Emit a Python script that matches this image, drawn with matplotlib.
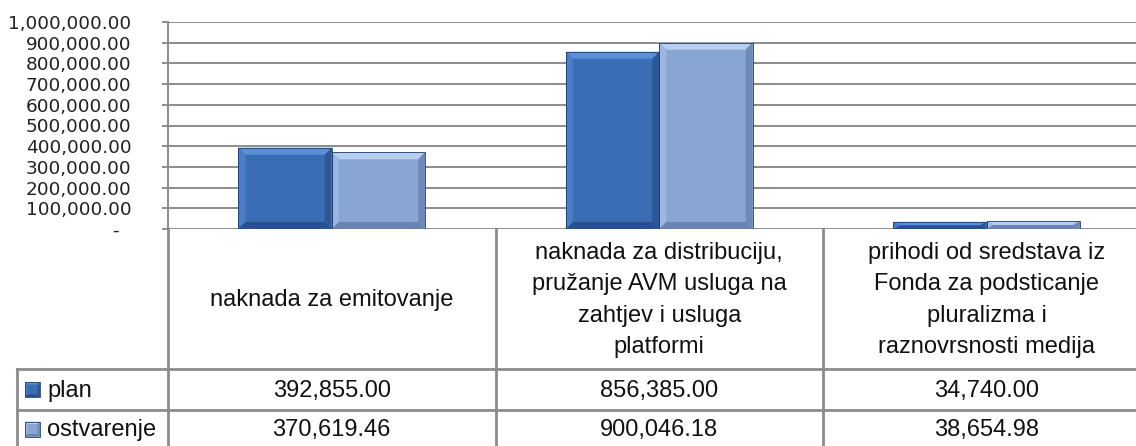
import matplotlib.pyplot as plt
import numpy as np
from matplotlib.patches import Polygon, Rectangle
from matplotlib.ticker import FuncFormatter

# podaci
kategorije = [
    "naknada za emitovanje",
    "naknada za distribuciju,\npružanje AVM usluga na\nzahtjev i usluga\nplatformi",
    "prihodi od sredstava iz\nFonda za podsticanje\npluralizma i\nraznovrsnosti medija",
]
serije = ["plan", "ostvarenje"]
plan = [392855.00, 856385.00, 34740.00]
ostvarenje = [370619.46, 900046.18, 38654.98]
y_ticks = np.arange(0, 1000001, 100000)

# boje: lice, gore, lijevo, desno, dolje
boje = {
    "plan": ("#3a6db4", "#5b90d8", "#4a7ec5", "#2c5896", "#28508c"),
    "ostvarenje": ("#89a5d2", "#b8cef0", "#9cb6e0", "#6e8aba", "#6a84b2"),
}

# raspored u pikselima
W, H = 1136, 446
AX_L, COL_W = 168, 327.5
AX_TOP, AX_BOT = 22, 229
ROW1, ROW2, ROW3 = 369, 410, 451
LEG_L = 17
GRID = "#8c8c8c"
TXT_FONT = "Liberation Sans"
TXT_SIZE = 17


def bevel(ax, x0, x1, y0, y1, cols, bx, by):
    face, top, left, right, bottom = cols
    bx = min(bx, (x1 - x0) / 2)
    by = min(by, (y1 - y0) / 2) if by > 0 else max(by, (y1 - y0) / 2)
    ax.add_patch(Rectangle((x0, y0), x1 - x0, y1 - y0, facecolor=face,
                           edgecolor="none", zorder=3))
    xi0, xi1, yi0, yi1 = x0 + bx, x1 - bx, y0 + by, y1 - by
    polys = [
        ([(x0, y1), (x1, y1), (xi1, yi1), (xi0, yi1)], top),
        ([(x0, y0), (x0, y1), (xi0, yi1), (xi0, yi0)], left),
        ([(x1, y0), (x1, y1), (xi1, yi1), (xi1, yi0)], right),
        ([(x0, y0), (x1, y0), (xi1, yi0), (xi0, yi0)], bottom),
    ]
    for pts, c in polys:
        ax.add_patch(Polygon(pts, closed=True, facecolor=c, edgecolor="none",
                             zorder=3))
    ax.add_patch(Rectangle((x0, y0), x1 - x0, y1 - y0, facecolor="none",
                           edgecolor="#1f3f6e", lw=0.6, zorder=4))


def main():
    fig = plt.figure(figsize=(W / 100, H / 100), dpi=100)

    ax = fig.add_axes([AX_L / W, 1 - AX_BOT / H, 3 * COL_W / W,
                       (AX_BOT - AX_TOP) / H])
    ax.set_xlim(-0.5, 2.5)
    ax.set_ylim(0, 1000000)
    ax.set_yticks(y_ticks)
    ax.yaxis.set_major_formatter(FuncFormatter(
        lambda v, p: "-  " if v == 0 else f"{v:,.2f}"))
    ax.set_xticks([])
    ax.grid(axis="y", color=GRID, lw=1.4)
    ax.set_axisbelow(True)
    for s in ["top", "right", "bottom"]:
        ax.spines[s].set_visible(False)
    ax.spines["left"].set_color(GRID)
    ax.spines["left"].set_linewidth(1.4)
    ax.tick_params(axis="y", direction="out", length=4.5, width=1.4,
                   color=GRID, pad=22, labelsize=13.3, labelcolor="#222222")

    # bevel u jedinicama podataka
    bx = 7 * 3 / (3 * COL_W)
    by = 7 * 1000000 / (AX_BOT - AX_TOP)
    x = np.arange(len(kategorije))
    w = 0.285
    for i in range(len(kategorije)):
        bevel(ax, x[i] - w, x[i], 0, plan[i], boje["plan"], bx, by)
        bevel(ax, x[i], x[i] + w, 0, ostvarenje[i], boje["ostvarenje"], bx, by)

    # tabela podataka
    tab = fig.add_axes([0, 0, 1, 1])
    tab.set_xlim(0, W)
    tab.set_ylim(H, 0)
    tab.axis("off")
    tab.patch.set_visible(False)

    kw = dict(color=GRID, lw=2, clip_on=False)
    granice = [AX_L + k * COL_W for k in range(4)]
    tab.plot([AX_L, AX_L], [AX_BOT, ROW3], **kw)
    for gx in granice[1:]:
        tab.plot([gx, gx], [AX_BOT, ROW3], **kw)
    tab.plot([LEG_L, LEG_L], [ROW1, ROW3], **kw)
    for gy in [ROW1, ROW2, ROW3]:
        tab.plot([LEG_L, W], [gy, gy], **kw)

    for i, k in enumerate(kategorije):
        cx = AX_L + (i + 0.5) * COL_W
        tab.text(cx, (AX_BOT + ROW1) / 2 + 1, k, ha="center", va="center",
                 fontsize=TXT_SIZE, family=TXT_FONT, linespacing=1.55,
                 color="#111111")
        tab.text(cx, (ROW1 + ROW2) / 2 + 1, f"{plan[i]:,.2f}", ha="center",
                 va="center", fontsize=TXT_SIZE, family=TXT_FONT,
                 color="#111111")
        tab.text(cx, ROW2 + 20, f"{ostvarenje[i]:,.2f}",
                 ha="center", va="center", fontsize=TXT_SIZE, family=TXT_FONT,
                 color="#111111")

    for s, yc in [("plan", (ROW1 + ROW2) / 2), ("ostvarenje", ROW2 + 19)]:
        bevel(tab, 25, 40, yc + 7.5, yc - 7.5, boje[s], 2.5, -2.5)
        tab.text(47, yc + 1, s, ha="left", va="center", fontsize=TXT_SIZE,
                 family=TXT_FONT, color="#111111")

    fig.savefig("out.png", dpi=100)


if __name__ == '__main__':
    main()
